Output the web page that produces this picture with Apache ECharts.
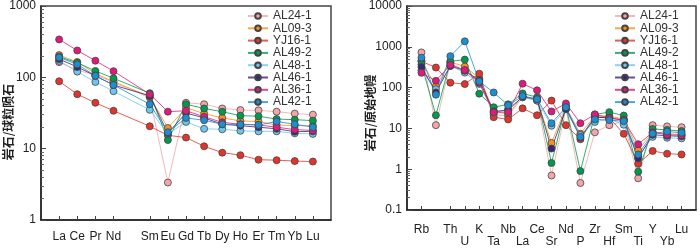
<!DOCTYPE html>
<html>
<head>
<meta charset="utf-8">
<script src="https://cdn.jsdelivr.net/npm/echarts@6/dist/echarts.min.js"></script>
<style>
  html, body { margin: 0; padding: 0; background: #fff; }
  #chart { width: 700px; height: 248px; }
</style>
</head>
<body>
<div id="chart"></div>
<script>
// samples, in legend order
const samples = ['AL24-1', 'AL09-3', 'YJ16-1', 'AL49-2', 'AL48-1', 'AL46-1', 'AL36-1', 'AL42-1']
const colors = ['#f4a5a8', '#f7901e', '#e2342b', '#009a4e', '#6ec6ee', '#3b2579', '#e2197c', '#1b8fd2']

// chondrite normalised REE (Pm not measured)
const ree = ['La', 'Ce', 'Pr', 'Nd', 'Pm', 'Sm', 'Eu', 'Gd', 'Tb', 'Dy', 'Ho', 'Er', 'Tm', 'Yb', 'Lu']
const reeAL24_1 = [163, 126, 108, 85, null, 52, 3.35, 44, 42, 36.6, 34.8, 34.5, 33, 31, 30]
const reeAL09_3 = [205, 164, 113, 87, null, 54, 19.5, 37.5, 31, 27, 24.5, 24, 21.5, 21, 21]
const reeYJ16_1 = [88, 58, 44, 34, null, 20.6, 15.4, 14.3, 10.8, 8.8, 8.1, 7.0, 6.9, 6.7, 6.6]
const reeAL49_2 = [195, 160, 123, 97, null, 60, 13.2, 42, 36.6, 33, 29, 28.5, 26, 25.5, 24.7]
const reeAL48_1 = [170, 120, 86, 64, null, 35, 16, 23.7, 19, 18.7, 17.8, 17.5, 17.5, 16.4, 16.1]
const reeAL46_1 = [180, 140, 105, 78, null, 55, 16.5, 31.6, 27, 22, 21, 20, 19, 17.3, 17.5]
const reeAL36_1 = [340, 238, 171, 122, null, 58, 33, 34, 28, 23.4, 22, 21.5, 20, 18.5, 18]
const reeAL42_1 = [190, 152, 105, 78, null, 42, 17, 27, 25, 22, 21.9, 21.5, 24, 22, 20]

// primitive mantle normalised trace elements
const spider = ['Rb', 'Ba', 'Th', 'U', 'K', 'Ta', 'Nb', 'La', 'Ce', 'Sr', 'Nd', 'P', 'Zr', 'Hf', 'Sm', 'Ti', 'Y', 'Yb', 'Lu']
const pmAL24_1 = [730, 12, 400, 250, 160, 22, 20, 58, 48, 0.7, 30, 0.46, 8, 12, 15, 0.6, 12, 11.2, 10.7]
const pmAL09_3 = [450, 108, 420, 330, 170, 27, 22, 63, 50, 4.4, 33, 7.4, 20.6, 20, 17, 2.9, 8.1, 7.4, 7.1]
const pmYJ16_1 = [440, 310, 132, 122, 220, 18.8, 16.6, 31, 21, 48, 12, 5.4, 19, 18.2, 7.4, 1.36, 2.8, 2.4, 2.3]
const pmAL49_2 = [370, 21, 440, 485, 71, 33, 39, 72, 58, 1.42, 35, 0.9, 22, 25, 20.6, 0.87, 9.7, 9.2, 8.6]
const pmAL48_1 = [265, 91, 340, 233, 123, 24, 30, 58, 48, 11.6, 30, 6.9, 14.4, 17, 12.3, 2.1, 6.2, 5.9, 5.7]
const pmAL46_1 = [320, 76, 340, 260, 150, 26, 28, 60, 52, 3.2, 30, 6, 19, 18, 16, 1.85, 7, 6.6, 6.4]
const pmAL36_1 = [230, 147, 360, 270, 130, 25, 25, 125, 86, 26, 41, 13.4, 22, 18, 16, 4.1, 8, 7, 6.8]
const pmAL42_1 = [540, 67, 590, 1360, 142, 76, 37, 62, 52, 13.4, 33, 6.2, 16.6, 16, 15, 2.3, 7.5, 8.4, 7.8]

const reeData = [reeAL24_1, reeAL09_3, reeYJ16_1, reeAL49_2, reeAL48_1, reeAL46_1, reeAL36_1, reeAL42_1]
const pmData = [pmAL24_1, pmAL09_3, pmYJ16_1, pmAL49_2, pmAL48_1, pmAL46_1, pmAL36_1, pmAL42_1]

// blank slot at each end so the first and last element sit inside the frame
const reeCats = [''].concat(ree, [' '])
const pmCats = [''].concat(spider, [' '])
const pad = (arr) => [null].concat(arr, [null])

const font = '"Liberation Sans", Arial, sans-serif'
const cjk = '"Noto Sans CJK SC", sans-serif'

function xAxis(gridIndex, cats, twoRows) {
  const isEl = (v) => v.trim() !== '' && v !== 'Pm'
  return {
    type: 'category',
    gridIndex: gridIndex,
    data: cats,
    boundaryGap: false,
    axisLine: { lineStyle: { color: '#222', width: 1.5 } },
    axisTick: {
      inside: true, length: 4, lineStyle: { color: '#444' },
      interval: (i, v) => isEl(v)
    },
    axisLabel: {
      interval: (i, v) => isEl(v),
      showMinLabel: true,
      showMaxLabel: true,
      hideOverlap: false,
      fontFamily: font, fontSize: 12, color: '#222',
      margin: twoRows ? 13 : 10,
      lineHeight: 12.5,
      formatter: (v, i) => (twoRows && i % 2 === 0 ? '\n' + v : v)
    },
    splitLine: { show: false }
  }
}

function yAxis(gridIndex, min, max, name, gap, shift) {
  return {
    type: 'log',
    logBase: 10,
    gridIndex: gridIndex,
    min: min,
    max: max,
    name: name,
    nameLocation: 'middle',
    nameGap: gap,
    nameMoveOverlap: false,
    nameTextStyle: {
      fontFamily: cjk, fontSize: 12, color: '#222', fontWeight: 'bold',
      padding: [0, shift, 0, 0]
    },
    axisLine: { show: true, lineStyle: { color: '#222', width: 1.5 } },
    axisTick: { show: true, inside: true, length: 5, lineStyle: { color: '#444' } },
    minorTick: { show: true, splitNumber: 9, length: 3, lineStyle: { color: '#666' } },
    axisLabel: {
      fontFamily: font, fontSize: 12, color: '#222', margin: 5,
      formatter: (v) => String(+Number(v).toPrecision(6))
    },
    splitLine: { show: false }
  }
}

function legend(left) {
  return {
    orient: 'vertical',
    left: left,
    top: 10,
    itemWidth: 20,
    itemHeight: 7,
    itemGap: 0.3,
    padding: 0,
    textStyle: { fontFamily: font, fontSize: 12, color: '#333', lineHeight: 10 },
    data: samples
  }
}

const series = []
samples.forEach((s, k) => {
  const common = {
    name: s,
    type: 'line',
    symbol: 'circle',
    symbolSize: 7,
    connectNulls: true,
    animation: false,
    itemStyle: { color: colors[k], borderColor: '#444', borderWidth: 0.8 },
    lineStyle: { color: colors[k], width: 1, opacity: 0.8 }
  }
  series.push(Object.assign({}, common, { xAxisIndex: 0, yAxisIndex: 0, data: pad(reeData[k]) }))
  series.push(Object.assign({}, common, { xAxisIndex: 1, yAxisIndex: 1, data: pad(pmData[k]) }))
})

const chart = echarts.init(document.getElementById('chart'))
chart.setOption({
  animation: false,
  grid: [
    { left: 41, top: 5, width: 290, height: 215, show: true, borderColor: '#444', borderWidth: 1.5 },
    { left: 407, top: 5, width: 289, height: 215, show: true, borderColor: '#444', borderWidth: 1.5 }
  ],
  xAxis: [xAxis(0, reeCats, false), xAxis(1, pmCats, true)],
  yAxis: [
    yAxis(0, 1, 1000, '岩石/球粒陨石', 27, 18),
    yAxis(1, 0.1, 10000, '岩石/原始地幔', 31, 10)
  ],
  legend: [legend(247), legend(614)],
  series: series
})
</script>
</body>
</html>
